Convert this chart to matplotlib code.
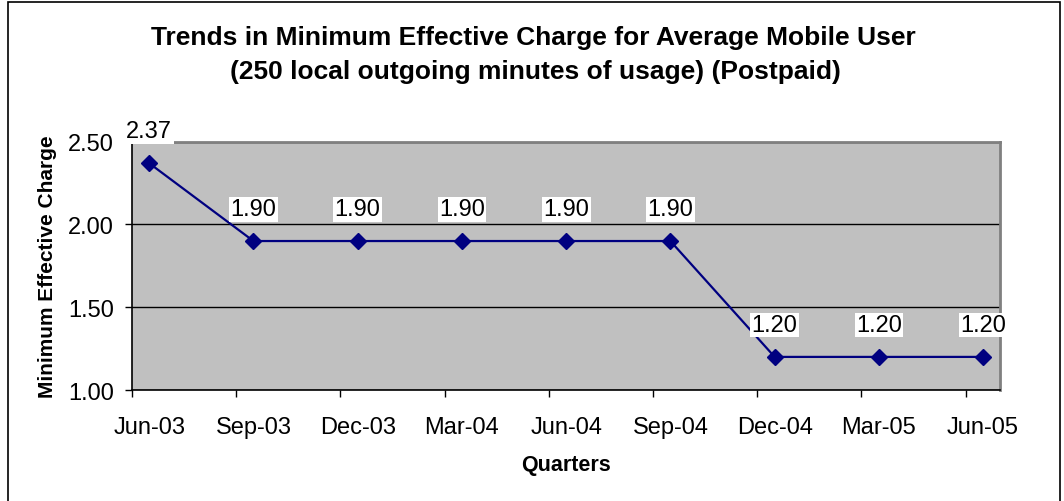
import matplotlib.pyplot as plt
from matplotlib.patches import Rectangle

plt.rcParams['font.family'] = ['Liberation Sans', 'DejaVu Sans']

# quarters, one every 3 months on a monthly axis
quarters = ['Jun-03', 'Sep-03', 'Dec-03', 'Mar-04', 'Jun-04',
            'Sep-04', 'Dec-04', 'Mar-05', 'Jun-05']
month_idx = [0, 3, 6, 9, 12, 15, 18, 21, 24]
charge = [2.37, 1.90, 1.90, 1.90, 1.90, 1.90, 1.20, 1.20, 1.20]

navy = '#000080'

fig = plt.figure(figsize=(10.64, 5.02), dpi=100)
fig.patches.append(Rectangle((8 / 1064, -0.1), 1052 / 1064, 1 - 3 / 502 + 0.1,
                             transform=fig.transFigure, fill=False,
                             edgecolor='black', linewidth=1.2))

ax = fig.add_axes([0.1239, 0.2211, 0.8164, 0.4946])
ax.set_facecolor('#c0c0c0')

ax.plot(month_idx, charge, color=navy, linewidth=1.6, marker='D',
        markersize=8.5, markerfacecolor=navy, markeredgecolor=navy, zorder=3)

for x, y in zip(month_idx, charge):
    ax.annotate('%.2f' % y, (x, y), xytext=(0, 15), textcoords='offset points',
                ha='center', va='bottom', fontsize=17,
                bbox=dict(boxstyle='square,pad=0.06', facecolor='white',
                          edgecolor='none'),
                annotation_clip=False, zorder=4)

ax.set_xlim(-0.5, 24.5)
ax.set_ylim(1.0, 2.5)
ax.set_yticks([1.0, 1.5, 2.0, 2.5])
ax.set_yticklabels(['1.00', '1.50', '2.00', '2.50'])
ax.yaxis.grid(True, color='black', linewidth=1)
ax.set_axisbelow(True)

# tick marks at quarter boundaries, labels centred on the month
ax.set_xticks([m - 0.5 for m in month_idx])
ax.set_xticklabels([])
ax.set_xticks(month_idx, minor=True)
ax.set_xticklabels(quarters, minor=True)
ax.tick_params(axis='x', which='major', length=5, width=1, color='black')
ax.tick_params(axis='x', which='minor', length=0, labelsize=17, pad=19)
ax.tick_params(axis='y', length=5, width=1, labelsize=17, pad=8)

for s in ['top', 'right']:
    ax.spines[s].set_color('#808080')
    ax.spines[s].set_linewidth(2)
for s in ['left', 'bottom']:
    ax.spines[s].set_color('black')
    ax.spines[s].set_linewidth(1.2)

ax.set_xlabel('Quarters', fontsize=15.5, fontweight='bold', labelpad=11)
ax.set_ylabel('Minimum Effective Charge', fontsize=15, fontweight='bold',
              labelpad=8)

fig.text(0.501, 1 - 38 / 502,
         'Trends in Minimum Effective Charge for Average Mobile User',
         ha='center', va='center', fontsize=19, fontweight='bold')
fig.text(0.503, 1 - 72 / 502,
         '(250 local outgoing minutes of usage) (Postpaid)',
         ha='center', va='center', fontsize=19, fontweight='bold')

fig.savefig('out.png', dpi=100)
